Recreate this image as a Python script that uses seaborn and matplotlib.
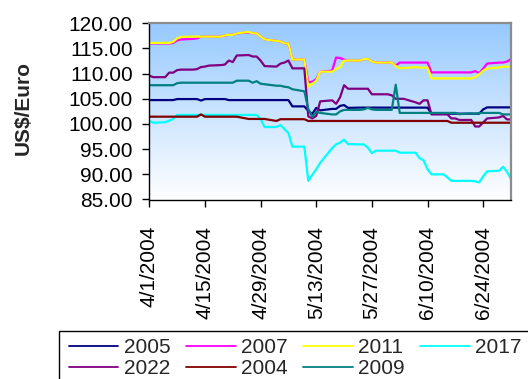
import numpy as np
import pandas as pd
import matplotlib
matplotlib.use("Agg")
import matplotlib.pyplot as plt
from matplotlib.lines import Line2D
from matplotlib.patches import Rectangle
from matplotlib.ticker import FormatStrFormatter
import seaborn as sns

# Trading days covered by the chart
dates = pd.bdate_range("2004-04-01", "2004-07-01")

years = ["2005", "2007", "2011", "2017", "2022", "2004", "2009"]
line_colors = ["#000080", "#FF00FF", "#FFFF00", "#00FFFF",
               "#800080", "#800000", "#008080"]

# US$/Euro index values per trading day
rate_2005 = ([104.75] * 5 + [104.95] * 4 + [104.65] + [104.95] * 4 + [104.75] * 12
             + [103.5, 103.5, 102.6, 102.0, 103.2, 102.7, 103.0, 103.0, 103.6, 103.75, 103.2]
             + [103.25] * 14 + [102.05] * 9 + [102.9] + [103.3] * 5)

rate_2007 = ([116.0] * 4 + [116.1, 116.6, 116.8, 116.9, 117.0] + [117.35] * 4
             + [117.6, 117.7, 117.7, 118.0, 118.2, 118.0, 118.0, 117.35, 116.8, 116.5,
                116.4, 116.0, 116.0, 112.8, 112.8, 108.3, 108.4, 108.9, 110.4, 110.6,
                113.2, 113.1, 112.8, 112.6, 112.6, 112.9, 112.9, 112.4]
             + [112.2] * 3 + [111.6] + [112.2] * 6 + [110.25] * 7
             + [110.5, 110.1, 111.0, 112.0, 112.2, 112.2, 112.4, 112.9])

rate_2011 = ([116.1] * 4 + [116.3, 117.0, 117.3] + [117.35] * 6
             + [117.6, 117.7, 117.7, 118.0, 118.3, 118.0, 118.0, 117.35, 116.8, 116.5,
                116.4, 116.0, 116.0, 112.8, 112.8, 107.4, 108.0, 108.6, 110.4, 110.4,
                110.9, 111.3, 112.6, 112.6, 112.6, 112.9, 112.9, 112.4, 112.2, 112.2,
                112.2, 111.5, 111.1, 111.1, 111.3, 111.2, 111.2, 111.2]
             + [109.05] * 7 + [109.3, 109.9, 110.6, 111.0, 111.25, 111.4, 111.4, 111.4])

rate_2017 = ([100.6, 100.25, 100.35, 100.65, 101.0] + [101.8] * 15
             + [101.0, 99.4, 99.4, 99.8, 99.0, 98.2, 95.5, 95.5, 88.7, 89.9,
                91.0, 92.3, 95.2, 95.95, 96.3, 96.9, 96.0, 95.95, 95.95, 95.3,
                94.2, 94.7, 94.7, 94.7, 94.7, 94.3, 94.3, 94.3, 93.2, 92.8,
                91.0, 90.0, 90.0, 89.4, 88.7, 88.7, 88.7, 88.7, 88.6, 88.4,
                89.6, 90.6, 90.7, 91.5, 90.5, 89.05])

rate_2022 = [109.6, 109.3, 109.3, 110.2, 110.2, 110.7, 110.8, 110.8, 110.9, 111.3,
             111.4, 111.6, 111.7, 111.8, 112.6, 112.3, 113.6, 113.7, 113.4, 113.4,
             112.6, 111.5, 111.4, 112.0, 112.2, 112.6, 111.05, 111.05, 101.5, 101.1,
             101.6, 104.5, 104.7, 104.0, 105.3, 107.7, 107.0, 107.0, 107.0, 107.0,
             105.9, 105.9, 105.9, 105.7, 105.0, 105.0, 105.0, 104.3, 104.0, 104.7,
             104.7, 101.9, 101.9, 101.9, 101.1, 101.1, 100.8, 100.8, 99.5, 99.5,
             100.3, 101.1, 101.3, 101.6, 100.9, 100.9]

rate_2004 = ([101.45] * 9 + [101.9] + [101.45] * 7 + [101.0] * 5 + [100.6]
             + [100.95] * 5 + [100.6] * 26 + [100.25] * 12)

rate_2009 = ([107.7] * 5 + [108.1] + [108.2] * 10
             + [108.6, 108.6, 108.2, 108.5, 108.0, 107.9, 107.6, 107.6, 107.4, 107.3,
                106.9, 106.5, 103.0, 101.4, 102.4, 102.2, 101.9, 101.9, 102.5, 102.8,
                102.8, 102.8, 102.9, 103.2, 102.9, 102.8, 102.8, 102.8, 107.8]
             + [102.2] * 11 + [101.95, 102.1, 102.0] + [102.2] * 4 + [101.9] * 3)

series = [rate_2005, rate_2007, rate_2011, rate_2017, rate_2022, rate_2004, rate_2009]

tick_dates = pd.to_datetime(["2004-04-01", "2004-04-15", "2004-04-29", "2004-05-13",
                             "2004-05-27", "2004-06-10", "2004-06-24"])
tick_labels = ["4/1/2004", "4/15/2004", "4/29/2004", "5/13/2004",
               "5/27/2004", "6/10/2004", "6/24/2004"]
y_ticks = [85, 90, 95, 100, 105, 110, 115, 120]

df = pd.concat(
    [pd.DataFrame({"date": dates, "rate": vals, "year": name})
     for name, vals in zip(years, series)],
    ignore_index=True,
)

sns.set_theme(style="white")
plt.rcParams["font.family"] = ["Liberation Sans", "DejaVu Sans"]

W, H = 528, 379
fig = plt.figure(figsize=(W / 100, H / 100), dpi=100)
left, right, top, bottom = 149.3, 511.0, 23.3, 199.5
ax = fig.add_axes([left / W, 1 - bottom / H, (right - left) / W, (bottom - top) / H])

# Sky-blue to white plot-area fill
grad = np.linspace(0, 1, 256).reshape(-1, 1)
top_rgb = np.array([150, 201, 255]) / 255.0
img = top_rgb[None, None, :] * (1 - grad[:, :, None]) + np.ones(3)[None, None, :] * grad[:, :, None]
ax.imshow(img, extent=[0, 1, 0, 1], transform=ax.transAxes, aspect="auto",
          zorder=0, interpolation="bilinear")

palette = dict(zip(years, line_colors))
sns.lineplot(data=df, x="date", y="rate", hue="year", hue_order=years,
             palette=palette, linewidth=1.6, legend=False, ax=ax, zorder=2)

ax.set_xlim(pd.Timestamp("2004-04-01"), pd.Timestamp("2004-07-01"))
ax.set_ylim(85, 120)
ax.set_xticks(tick_dates)
ax.set_xticklabels(tick_labels, rotation=90)
ax.set_yticks(y_ticks)
ax.yaxis.set_major_formatter(FormatStrFormatter("%.2f"))
ax.set_xlabel("")
ax.set_ylabel("")
ax.tick_params(axis="both", direction="out", length=5, width=1, color="black",
               labelsize=15, labelcolor="black", pad=7)
ax.tick_params(axis="x", pad=14)
ax.tick_params(axis="both", which="both", bottom=True, left=True)

for side in ("left", "bottom"):
    ax.spines[side].set_color("black")
    ax.spines[side].set_linewidth(1.0)
for side in ("top", "right"):
    ax.spines[side].set_color("#8c8c8c")
    ax.spines[side].set_linewidth(1.6)

fig.text(23 / W, 1 - 108 / H, "US$/Euro", rotation=90, ha="center", va="center",
         fontsize=15, fontweight="bold")

# Legend laid out row by row: reorder for matplotlib's column-wise fill
order = [0, 4, 1, 5, 2, 6, 3]
handles = [Line2D([], [], color=line_colors[i], linewidth=1.3) for i in order]
labels = [years[i] for i in order]
fig.legend(handles, labels, ncol=4, loc="upper left",
           bbox_to_anchor=(69.3 / W, 1 - 338.0 / H), bbox_transform=fig.transFigure,
           frameon=False, fontsize=15, handlelength=2.36, handletextpad=0.25,
           columnspacing=0.77, labelspacing=0.12, borderpad=0, borderaxespad=0)
fig.patches.append(Rectangle((59.3 / W, -0.2), 1.5, (H - 330.7) / H + 0.2,
                             transform=fig.transFigure, fill=False,
                             edgecolor="black", linewidth=1.0))

fig.savefig("out.png", dpi=100)
